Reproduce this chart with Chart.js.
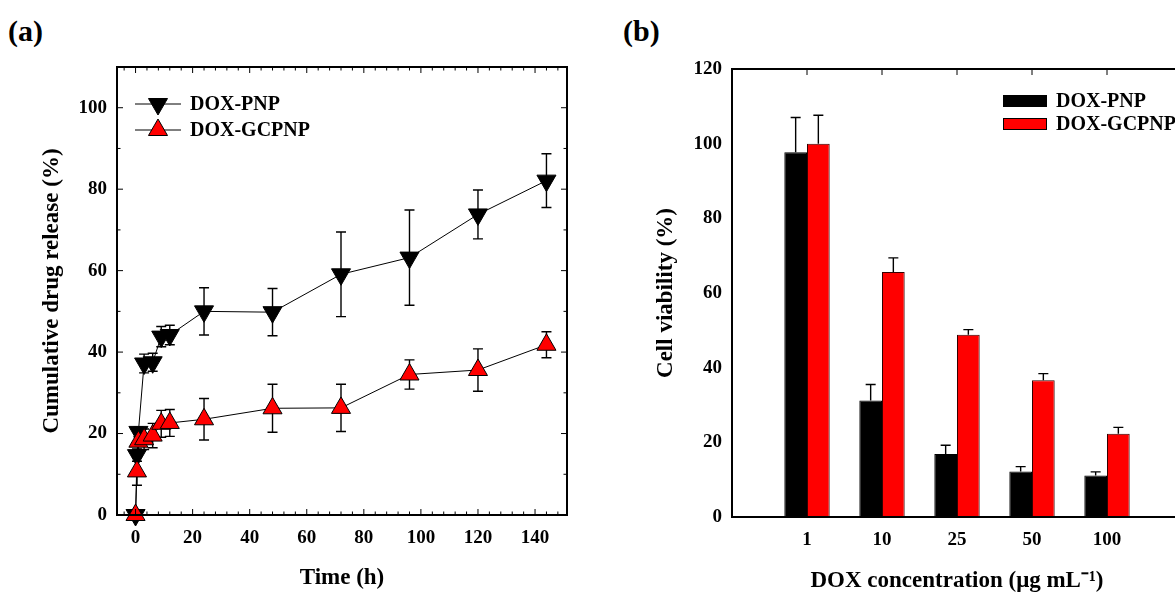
<!DOCTYPE html>
<html>
<head>
<meta charset="utf-8">
<script src="https://cdn.jsdelivr.net/npm/chart.js@4.4.0/dist/chart.umd.min.js"></script>
<style>
body{margin:0;width:1175px;height:596px;overflow:hidden;background:#fff;position:relative;font-family:"Liberation Serif","Times New Roman",serif}
#wa{position:absolute;left:0;top:0;width:590px;height:596px}
#wb{position:absolute;left:590px;top:0;width:620px;height:596px}
.lbl{position:absolute;font-weight:bold;font-size:30px;line-height:30px}
</style>
</head>
<body>
<div class="lbl" style="left:8px;top:16px">(a)</div>
<div class="lbl" style="left:623px;top:16px">(b)</div>
<div id="wa"><canvas id="ca"></canvas></div>
<div id="wb"><canvas id="cb"></canvas></div>
<script>
// (a) release profile
var times = [0, 0.5, 1, 3, 6, 9, 12, 24, 48, 72, 96, 120, 144];
var pnpRelease = [0, 14.7, 20.4, 37.2, 37.5, 43.8, 44.2, 50.0, 49.8, 59.1, 63.2, 73.8, 82.1];
var pnpReleaseErr = [0, 1.5, 1.2, 2.3, 2.2, 2.5, 2.4, 5.8, 5.8, 10.4, 11.7, 6.0, 6.6];
var gcpnpRelease = [0, 10.7, 18.0, 18.6, 19.5, 22.4, 22.6, 23.5, 26.2, 26.3, 34.5, 35.6, 41.8];
var gcpnpReleaseErr = [0, 3.4, 2.0, 2.5, 3.0, 3.3, 3.3, 5.1, 5.9, 5.8, 3.6, 5.2, 3.2];
var timeTicks = [0, 20, 40, 60, 80, 100, 120, 140];
var releaseTicks = [0, 20, 40, 60, 80, 100];

// (b) cell viability
var concentrations = ['1', '10', '25', '50', '100'];
var pnpViability = [97.7, 31.2, 16.9, 12.2, 11.1];
var pnpViabilityErr = [9.3, 4.3, 2.3, 1.3, 1.0];
var gcpnpViability = [100, 65.6, 48.8, 36.6, 22.3];
var gcpnpViabilityErr = [7.6, 3.8, 1.4, 1.8, 1.7];
var viabilityTicks = [0, 20, 40, 60, 80, 100, 120];

var serif = '"Liberation Serif", "Times New Roman", serif';
var tickFont = {family: serif, size: 19, weight: 'bold'};
var titleFont = {family: serif, size: 23, weight: 'bold'};
var legendFont = 'bold 20px ' + serif;

function setTicks(values){
	return function(scale){ scale.ticks = values.map(function(v){ return {value: v}; }); };
}

function errorBars(chart, errs, both){
	var ctx = chart.ctx, ys = chart.scales.y;
	ctx.save();
	ctx.strokeStyle = '#000';
	ctx.lineWidth = 1.4;
	chart.data.datasets.forEach(function(ds, i){
		chart.getDatasetMeta(i).data.forEach(function(el, j){
			var e = errs[i][j];
			if(!e) return;
			var v = ds.data[j].y;
			var top = ys.getPixelForValue(v + e);
			var bot = both ? ys.getPixelForValue(v - e) : el.y;
			ctx.beginPath();
			ctx.moveTo(el.x, top); ctx.lineTo(el.x, bot);
			ctx.moveTo(el.x - 5, top); ctx.lineTo(el.x + 5, top);
			if(both){ ctx.moveTo(el.x - 5, bot); ctx.lineTo(el.x + 5, bot); }
			ctx.stroke();
		});
	});
	ctx.restore();
}

var frameA = {
	id: 'frameA',
	beforeDatasetsDraw: function(chart){
		errorBars(chart, [pnpReleaseErr, gcpnpReleaseErr], true);
	},
	afterDraw: function(chart){
		var ctx = chart.ctx, a = chart.chartArea, xs = chart.scales.x, ys = chart.scales.y;
		ctx.save();
		ctx.strokeStyle = '#000';
		ctx.lineWidth = 1;
		ctx.beginPath();
		for(var t = -4; t <= 150; t += 4){
			var px = xs.getPixelForValue(t), len = (t % 20 === 0) ? 6 : 3.5;
			ctx.moveTo(px, a.bottom); ctx.lineTo(px, a.bottom - len);
			ctx.moveTo(px, a.top); ctx.lineTo(px, a.top + len);
		}
		for(var v = 10; v <= 100; v += 10){
			var py = ys.getPixelForValue(v), l2 = (v % 20 === 0) ? 6 : 3.5;
			ctx.moveTo(a.left, py); ctx.lineTo(a.left + l2, py);
			ctx.moveTo(a.right, py); ctx.lineTo(a.right - l2, py);
		}
		ctx.stroke();
		ctx.lineWidth = 2;
		ctx.strokeRect(a.left, a.top, a.right - a.left, a.bottom - a.top);

		// legend: line through marker
		ctx.font = legendFont;
		ctx.textBaseline = 'middle';
		ctx.fillStyle = '#000';
		chart.data.datasets.forEach(function(ds, i){
			var y = 104 + i * 26;
			ctx.lineWidth = 1;
			ctx.beginPath(); ctx.moveTo(135, y); ctx.lineTo(181, y); ctx.stroke();
			ctx.fillStyle = ds.pointBackgroundColor;
			Chart.helpers.drawPoint(ctx, {pointStyle: 'triangle', rotation: ds.pointRotation || 0, radius: 11, borderWidth: 1}, 158, y);
			ctx.fillStyle = '#000';
			ctx.fillText(ds.label, 190, y + 1);
		});
		ctx.restore();
	}
};

var frameB = {
	id: 'frameB',
	afterDatasetsDraw: function(chart){
		errorBars(chart, [pnpViabilityErr, gcpnpViabilityErr], false);
	},
	afterDraw: function(chart){
		var ctx = chart.ctx, a = chart.chartArea, xs = chart.scales.x;
		ctx.save();
		ctx.strokeStyle = '#000';
		ctx.lineWidth = 1;
		ctx.beginPath();
		concentrations.forEach(function(c, i){
			var px = xs.getPixelForValue(i + 1);
			ctx.moveTo(px, a.top); ctx.lineTo(px, a.top + 6);
		});
		ctx.stroke();
		ctx.lineWidth = 2;
		ctx.strokeRect(a.left, a.top, a.right - a.left, a.bottom - a.top);

		ctx.font = legendFont;
		ctx.textBaseline = 'middle';
		chart.data.datasets.forEach(function(ds, i){
			var y = 101 + i * 23;
			ctx.fillStyle = ds.backgroundColor;
			ctx.fillRect(413, y - 6, 44, 12);
			ctx.lineWidth = 1;
			ctx.strokeRect(413.5, y - 5.5, 43, 11);
			ctx.fillStyle = '#000';
			ctx.fillText(ds.label, 466, y + 1);
		});
		ctx.restore();
	}
};

new Chart(document.getElementById('ca'), {
	type: 'line',
	data: {
		datasets: [
			{
				label: 'DOX-PNP',
				data: times.map(function(t, i){ return {x: t, y: pnpRelease[i]}; }),
				borderColor: '#000', borderWidth: 1,
				pointStyle: 'triangle', pointRotation: 180, pointRadius: 11,
				pointBackgroundColor: '#000', pointBorderColor: '#000', pointBorderWidth: 1,
				clip: false, order: 1
			},
			{
				label: 'DOX-GCPNP',
				data: times.map(function(t, i){ return {x: t, y: gcpnpRelease[i]}; }),
				borderColor: '#000', borderWidth: 1,
				pointStyle: 'triangle', pointRotation: 0, pointRadius: 11,
				pointBackgroundColor: '#ff0000', pointBorderColor: '#000', pointBorderWidth: 1,
				clip: false, order: 0
			}
		]
	},
	options: {
		responsive: true, maintainAspectRatio: false, animation: false,
		layout: {padding: {top: 67, right: 23, bottom: 0, left: 0}},
		plugins: {legend: {display: false}, tooltip: {enabled: false}},
		scales: {
			x: {
				type: 'linear', min: -6.5, max: 151.2,
				grid: {display: false, drawTicks: false}, border: {display: false},
				afterBuildTicks: setTicks(timeTicks),
				afterFit: function(s){ s.height = 81; },
				ticks: {padding: 12, font: tickFont, color: '#000'},
				title: {display: true, text: 'Time (h)', font: titleFont, color: '#000', padding: {top: 0, bottom: 4}}
			},
			y: {
				min: 0, max: 110,
				grid: {display: false, drawTicks: false}, border: {display: false},
				afterBuildTicks: setTicks(releaseTicks),
				afterFit: function(s){ s.width = 117; },
				ticks: {padding: 10, font: tickFont, color: '#000'},
				title: {display: true, text: 'Cumulative drug release (%)', font: titleFont, color: '#000', padding: {top: 38, bottom: 0}}
			}
		}
	},
	plugins: [frameA]
});

new Chart(document.getElementById('cb'), {
	type: 'bar',
	data: {
		datasets: [
			{
				label: 'DOX-PNP',
				data: pnpViability.map(function(v, i){ return {x: i + 1, y: v}; }),
				backgroundColor: '#000', borderColor: '#000', borderWidth: 1
			},
			{
				label: 'DOX-GCPNP',
				data: gcpnpViability.map(function(v, i){ return {x: i + 1, y: v}; }),
				backgroundColor: '#ff0000', borderColor: '#300', borderWidth: 1
			}
		]
	},
	options: {
		responsive: true, maintainAspectRatio: false, animation: false,
		layout: {padding: {top: 69, right: 28, bottom: 0, left: 0}},
		plugins: {legend: {display: false}, tooltip: {enabled: false}},
		datasets: {bar: {categoryPercentage: 0.605, barPercentage: 1}},
		scales: {
			x: {
				type: 'linear', min: 0, max: 6, offset: false,
				grid: {display: false, drawTicks: false, offset: false}, border: {display: false},
				afterBuildTicks: setTicks([1, 2, 3, 4, 5]),
				afterFit: function(s){ s.height = 79; },
				ticks: {padding: 12, font: tickFont, color: '#000', callback: function(v){ return concentrations[v - 1]; }},
				title: {display: true, text: 'DOX concentration (μg mL⁻¹)', font: titleFont, color: '#000', padding: {top: 0, bottom: 1}}
			},
			y: {
				min: 0, max: 120,
				grid: {display: false, drawTicks: false}, border: {display: false},
				afterBuildTicks: setTicks(viabilityTicks),
				afterFit: function(s){ s.width = 142; },
				ticks: {padding: 10, font: tickFont, color: '#000'},
				title: {display: true, text: 'Cell viability (%)', font: titleFont, color: '#000', padding: {top: 62, bottom: 0}}
			}
		}
	},
	plugins: [frameB]
});
</script>
</body>
</html>
